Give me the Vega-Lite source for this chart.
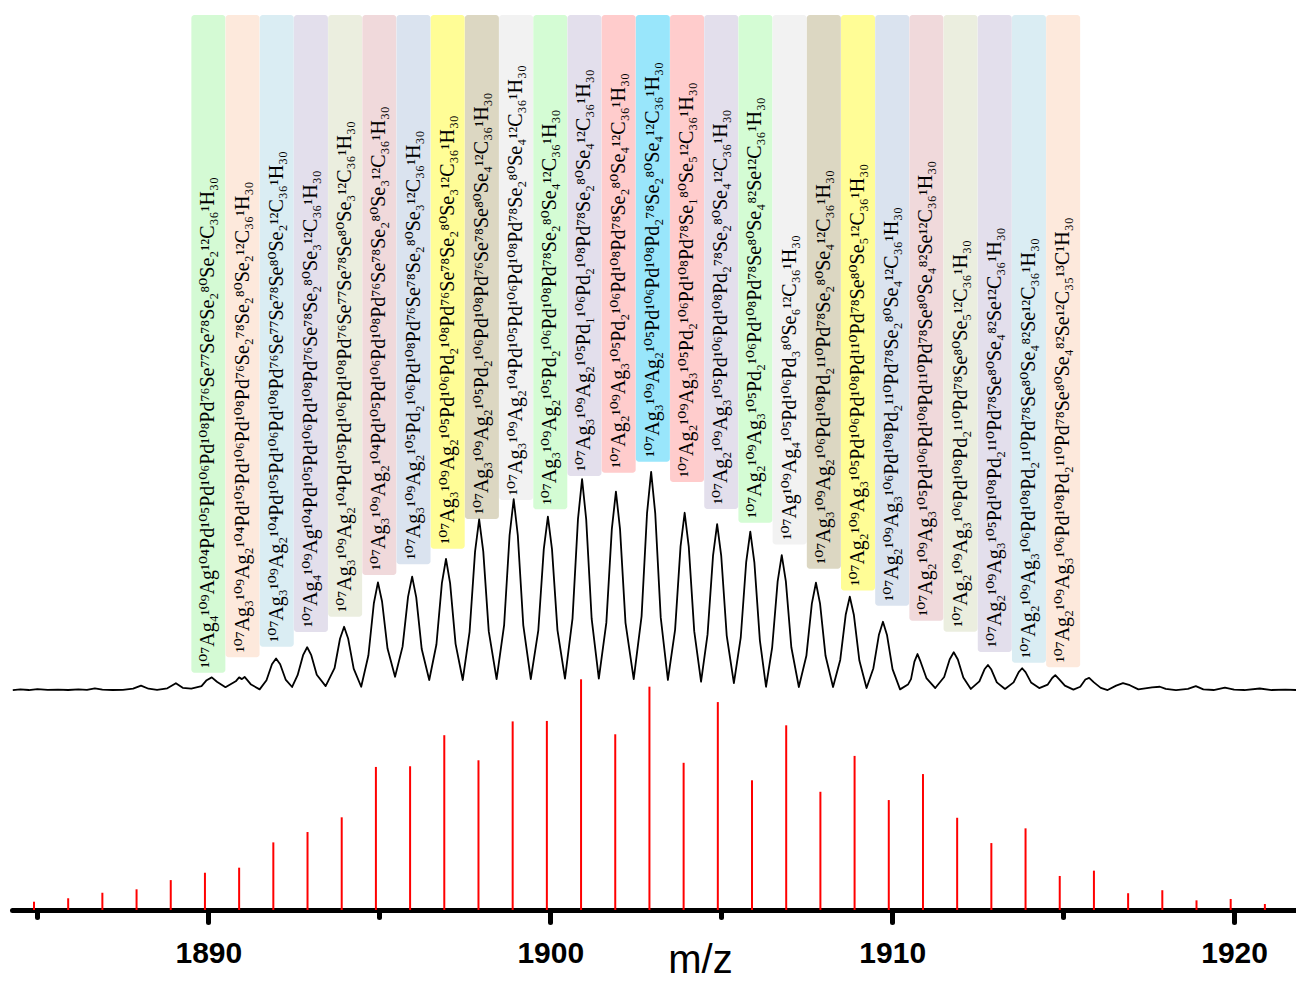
{
  "$schema": "https://vega.github.io/schema/vega-lite/v6.json",
  "width": 1284,
  "height": 910,
  "autosize": {"type": "none"},
  "padding": {"left": 12, "top": 0, "right": 0, "bottom": 71},
  "background": "white",
  "config": {"view": {"stroke": null}},
  "datasets": {
    "labels": [
      {"id": 1, "mz": 1890, "base": 7.9, "f": "¹⁰⁷Ag₄¹⁰⁹Ag¹⁰⁴Pd¹⁰⁵Pd¹⁰⁶Pd¹⁰⁸Pd⁷⁶Se⁷⁷Se⁷⁸Se₂⁸⁰Se₂¹²C₃₆¹H₃₀"},
      {"id": 2, "mz": 1891, "base": 15.0, "f": "¹⁰⁷Ag₃¹⁰⁹Ag₂¹⁰⁴Pd¹⁰⁵Pd¹⁰⁶Pd¹⁰⁸Pd⁷⁶Se₂⁷⁸Se₂⁸⁰Se₂¹²C₃₆¹H₃₀"},
      {"id": 3, "mz": 1892, "base": 19.9, "f": "¹⁰⁷Ag₃¹⁰⁹Ag₂¹⁰⁴Pd¹⁰⁵Pd¹⁰⁶Pd¹⁰⁸Pd⁷⁶Se⁷⁷Se⁷⁸Se⁸⁰Se₂¹²C₃₆¹H₃₀"},
      {"id": 4, "mz": 1893, "base": 26.6, "f": "¹⁰⁷Ag₄¹⁰⁹Ag¹⁰⁴Pd¹⁰⁵Pd¹⁰⁶Pd¹⁰⁸Pd⁷⁶Se⁷⁸Se₂⁸⁰Se₃¹²C₃₆¹H₃₀"},
      {"id": 5, "mz": 1894, "base": 33.6, "f": "¹⁰⁷Ag₃¹⁰⁹Ag₂¹⁰⁴Pd¹⁰⁵Pd¹⁰⁶Pd¹⁰⁸Pd⁷⁶Se⁷⁷Se⁷⁸Se⁸⁰Se₃¹²C₃₆¹H₃₀"},
      {"id": 6, "mz": 1895, "base": 52.8, "f": "¹⁰⁷Ag₃¹⁰⁹Ag₂¹⁰⁴Pd¹⁰⁵Pd¹⁰⁶Pd¹⁰⁸Pd⁷⁶Se⁷⁸Se₂⁸⁰Se₃¹²C₃₆¹H₃₀"},
      {"id": 7, "mz": 1896, "base": 57.7, "f": "¹⁰⁷Ag₃¹⁰⁹Ag₂¹⁰⁵Pd₂¹⁰⁶Pd¹⁰⁸Pd⁷⁶Se⁷⁸Se₂⁸⁰Se₃¹²C₃₆¹H₃₀"},
      {"id": 8, "mz": 1897, "base": 64.8, "f": "¹⁰⁷Ag₃¹⁰⁹Ag₂¹⁰⁵Pd¹⁰⁶Pd₂¹⁰⁸Pd⁷⁶Se⁷⁸Se₂⁸⁰Se₃¹²C₃₆¹H₃₀"},
      {"id": 9, "mz": 1898, "base": 78.4, "f": "¹⁰⁷Ag₃¹⁰⁹Ag₂¹⁰⁵Pd₂¹⁰⁶Pd¹⁰⁸Pd⁷⁶Se⁷⁸Se⁸⁰Se₄¹²C₃₆¹H₃₀"},
      {"id": 10, "mz": 1899, "base": 87.2, "f": "¹⁰⁷Ag₃¹⁰⁹Ag₂¹⁰⁴Pd¹⁰⁵Pd¹⁰⁶Pd¹⁰⁸Pd⁷⁸Se₂⁸⁰Se₄¹²C₃₆¹H₃₀"},
      {"id": 11, "mz": 1900, "base": 82.9, "f": "¹⁰⁷Ag₃¹⁰⁹Ag₂¹⁰⁵Pd₂¹⁰⁶Pd¹⁰⁸Pd⁷⁸Se₂⁸⁰Se₄¹²C₃₆¹H₃₀"},
      {"id": 12, "mz": 1901, "base": 98.2, "f": "¹⁰⁷Ag₃¹⁰⁹Ag₂¹⁰⁵Pd₁¹⁰⁶Pd₂¹⁰⁸Pd⁷⁸Se₂⁸⁰Se₄¹²C₃₆¹H₃₀"},
      {"id": 13, "mz": 1902, "base": 99.7, "f": "¹⁰⁷Ag₂¹⁰⁹Ag₃¹⁰⁵Pd₂¹⁰⁶Pd¹⁰⁸Pd⁷⁸Se₂⁸⁰Se₄¹²C₃₆¹H₃₀"},
      {"id": 14, "mz": 1903, "base": 104.7, "f": "¹⁰⁷Ag₃¹⁰⁹Ag₂¹⁰⁵Pd¹⁰⁶Pd¹⁰⁸Pd₂⁷⁸Se₂⁸⁰Se₄¹²C₃₆¹H₃₀"},
      {"id": 15, "mz": 1904, "base": 95.4, "f": "¹⁰⁷Ag₂¹⁰⁹Ag₃¹⁰⁵Pd₂¹⁰⁶Pd¹⁰⁸Pd⁷⁸Se₁⁸⁰Se₅¹²C₃₆¹H₃₀"},
      {"id": 16, "mz": 1905, "base": 83.0, "f": "¹⁰⁷Ag₂¹⁰⁹Ag₃¹⁰⁵Pd¹⁰⁶Pd¹⁰⁸Pd₂⁷⁸Se₂⁸⁰Se₄¹²C₃₆¹H₃₀"},
      {"id": 17, "mz": 1906, "base": 76.7, "f": "¹⁰⁷Ag₂¹⁰⁹Ag₃¹⁰⁵Pd₂¹⁰⁶Pd¹⁰⁸Pd⁷⁸Se⁸⁰Se₄⁸²Se¹²C₃₆¹H₃₀"},
      {"id": 18, "mz": 1907, "base": 66.7, "f": "¹⁰⁷Ag¹⁰⁹Ag₄¹⁰⁵Pd¹⁰⁶Pd₃⁸⁰Se₆¹²C₃₆¹H₃₀"},
      {"id": 19, "mz": 1908, "base": 55.6, "f": "¹⁰⁷Ag₃¹⁰⁹Ag₂¹⁰⁶Pd¹⁰⁸Pd₂¹¹⁰Pd⁷⁸Se₂⁸⁰Se₄¹²C₃₆¹H₃₀"},
      {"id": 20, "mz": 1909, "base": 45.6, "f": "¹⁰⁷Ag₂¹⁰⁹Ag₃¹⁰⁵Pd¹⁰⁶Pd¹⁰⁸Pd¹¹⁰Pd⁷⁸Se⁸⁰Se₅¹²C₃₆¹H₃₀"},
      {"id": 21, "mz": 1910, "base": 38.7, "f": "¹⁰⁷Ag₂¹⁰⁹Ag₃¹⁰⁶Pd¹⁰⁸Pd₂¹¹⁰Pd⁷⁸Se₂⁸⁰Se₄¹²C₃₆¹H₃₀"},
      {"id": 22, "mz": 1911, "base": 31.8, "f": "¹⁰⁷Ag₂¹⁰⁹Ag₃¹⁰⁵Pd¹⁰⁶Pd¹⁰⁸Pd¹¹⁰Pd⁷⁸Se⁸⁰Se₄⁸²Se¹²C₃₆¹H₃₀"},
      {"id": 23, "mz": 1912, "base": 26.7, "f": "¹⁰⁷Ag₂¹⁰⁹Ag₃¹⁰⁶Pd¹⁰⁸Pd₂¹¹⁰Pd⁷⁸Se⁸⁰Se₅¹²C₃₆¹H₃₀"},
      {"id": 24, "mz": 1913, "base": 17.4, "f": "¹⁰⁷Ag₂¹⁰⁹Ag₃¹⁰⁵Pd¹⁰⁸Pd₂¹¹⁰Pd⁷⁸Se⁸⁰Se₄⁸²Se¹²C₃₆¹H₃₀"},
      {"id": 25, "mz": 1914, "base": 12.5, "f": "¹⁰⁷Ag₂¹⁰⁹Ag₃¹⁰⁶Pd¹⁰⁸Pd₂¹¹⁰Pd⁷⁸Se⁸⁰Se₄⁸²Se¹²C₃₆¹H₃₀"},
      {"id": 26, "mz": 1915, "base": 10.4, "f": "¹⁰⁷Ag₂¹⁰⁹Ag₃¹⁰⁶Pd¹⁰⁸Pd₂¹¹⁰Pd⁷⁸Se⁸⁰Se₄⁸²Se¹²C₃₅¹³C¹H₃₀"}
    ],
    "sim": [
      {"mz": 1884.9, "i": 3.6}, {"mz": 1885.9, "i": 5.1}, {"mz": 1886.9, "i": 7.5}, {"mz": 1887.9, "i": 9.0},
      {"mz": 1888.9, "i": 13.0}, {"mz": 1889.9, "i": 16.2}, {"mz": 1890.9, "i": 18.4}, {"mz": 1891.9, "i": 29.4},
      {"mz": 1892.9, "i": 33.9}, {"mz": 1893.9, "i": 40.3}, {"mz": 1894.9, "i": 62.2}, {"mz": 1895.9, "i": 62.5},
      {"mz": 1896.9, "i": 76.0}, {"mz": 1897.9, "i": 65.1}, {"mz": 1898.9, "i": 82.0}, {"mz": 1899.9, "i": 82.2},
      {"mz": 1900.9, "i": 100.3}, {"mz": 1901.9, "i": 76.4}, {"mz": 1902.9, "i": 97.1}, {"mz": 1903.9, "i": 64.0},
      {"mz": 1904.9, "i": 90.4}, {"mz": 1905.9, "i": 56.4}, {"mz": 1906.9, "i": 80.3}, {"mz": 1907.9, "i": 51.4},
      {"mz": 1908.9, "i": 67.0}, {"mz": 1909.9, "i": 47.8}, {"mz": 1910.9, "i": 59.1}, {"mz": 1911.9, "i": 40.1},
      {"mz": 1912.9, "i": 29.1}, {"mz": 1913.9, "i": 35.5}, {"mz": 1914.9, "i": 14.8}, {"mz": 1915.9, "i": 17.1},
      {"mz": 1916.9, "i": 7.3}, {"mz": 1917.9, "i": 8.6}, {"mz": 1918.9, "i": 4.2}, {"mz": 1919.9, "i": 4.8},
      {"mz": 1920.9, "i": 2.6}
    ],
    "exp": [
      {"mz": 1884.28, "i": 0.0}, {"mz": 1884.5, "i": 0.3}, {"mz": 1884.75, "i": 0.0}, {"mz": 1885.0, "i": 0.4},
      {"mz": 1885.3, "i": 0.1}, {"mz": 1885.6, "i": 0.2}, {"mz": 1885.9, "i": 0.0}, {"mz": 1886.2, "i": 0.3},
      {"mz": 1886.45, "i": 0.1}, {"mz": 1886.68, "i": 0.8}, {"mz": 1886.9, "i": 0.2}, {"mz": 1887.2, "i": 0.0},
      {"mz": 1887.5, "i": 0.1}, {"mz": 1887.8, "i": 0.6}, {"mz": 1888.03, "i": 2.0}, {"mz": 1888.25, "i": 0.6},
      {"mz": 1888.5, "i": 0.1}, {"mz": 1888.8, "i": 0.8}, {"mz": 1889.05, "i": 3.1}, {"mz": 1889.25, "i": 1.0},
      {"mz": 1889.5, "i": 0.6}, {"mz": 1889.8, "i": 1.8}, {"mz": 1889.95, "i": 4.5}, {"mz": 1890.1, "i": 5.8},
      {"mz": 1890.25, "i": 3.8}, {"mz": 1890.5, "i": 1.3}, {"mz": 1890.8, "i": 4.0}, {"mz": 1890.9, "i": 5.8},
      {"mz": 1890.98, "i": 5.0}, {"mz": 1891.06, "i": 6.0}, {"mz": 1891.25, "i": 2.5}, {"mz": 1891.5, "i": 0.3},
      {"mz": 1891.7, "i": 4.5}, {"mz": 1891.86, "i": 11.8}, {"mz": 1891.98, "i": 14.5}, {"mz": 1892.1, "i": 11.8},
      {"mz": 1892.26, "i": 4.8}, {"mz": 1892.45, "i": 1.4},
      {"mz": 1892.61, "i": 6.8}, {"mz": 1892.77, "i": 16.0}, {"mz": 1892.89, "i": 19.6}, {"mz": 1893.01, "i": 16.0},
      {"mz": 1893.17, "i": 7.0}, {"mz": 1893.43, "i": 1.8},
      {"mz": 1893.69, "i": 10.0}, {"mz": 1893.85, "i": 23.5}, {"mz": 1893.97, "i": 29.0}, {"mz": 1894.09, "i": 23.5},
      {"mz": 1894.25, "i": 9.8}, {"mz": 1894.47, "i": 1.5},
      {"mz": 1894.68, "i": 15.8}, {"mz": 1894.84, "i": 39.8}, {"mz": 1894.96, "i": 49.4}, {"mz": 1895.08, "i": 40.6},
      {"mz": 1895.24, "i": 19.0}, {"mz": 1895.46, "i": 6.1},
      {"mz": 1895.68, "i": 19.9}, {"mz": 1895.84, "i": 42.7}, {"mz": 1895.96, "i": 52.0}, {"mz": 1896.08, "i": 42.5},
      {"mz": 1896.24, "i": 18.8}, {"mz": 1896.46, "i": 4.6},
      {"mz": 1896.67, "i": 20.9}, {"mz": 1896.83, "i": 49.0}, {"mz": 1896.95, "i": 60.1}, {"mz": 1897.07, "i": 49.0},
      {"mz": 1897.23, "i": 21.2}, {"mz": 1897.44, "i": 4.6},
      {"mz": 1897.64, "i": 26.7}, {"mz": 1897.8, "i": 63.5}, {"mz": 1897.92, "i": 78.3}, {"mz": 1898.04, "i": 63.6},
      {"mz": 1898.2, "i": 27.0}, {"mz": 1898.43, "i": 5.0},
      {"mz": 1898.65, "i": 29.8}, {"mz": 1898.81, "i": 71.0}, {"mz": 1898.93, "i": 87.5}, {"mz": 1899.05, "i": 71.0},
      {"mz": 1899.21, "i": 29.8}, {"mz": 1899.43, "i": 5.0},
      {"mz": 1899.65, "i": 27.4}, {"mz": 1899.81, "i": 64.6}, {"mz": 1899.93, "i": 79.5}, {"mz": 1900.05, "i": 64.6},
      {"mz": 1900.21, "i": 27.5}, {"mz": 1900.43, "i": 5.2},
      {"mz": 1900.65, "i": 32.7}, {"mz": 1900.81, "i": 78.4}, {"mz": 1900.93, "i": 96.7}, {"mz": 1901.05, "i": 78.4},
      {"mz": 1901.21, "i": 32.7}, {"mz": 1901.42, "i": 5.2},
      {"mz": 1901.64, "i": 30.9}, {"mz": 1901.8, "i": 73.8}, {"mz": 1901.92, "i": 91.0}, {"mz": 1902.04, "i": 73.8},
      {"mz": 1902.2, "i": 30.8}, {"mz": 1902.44, "i": 5.0},
      {"mz": 1902.67, "i": 33.8}, {"mz": 1902.83, "i": 81.1}, {"mz": 1902.95, "i": 100.1}, {"mz": 1903.07, "i": 81.0},
      {"mz": 1903.23, "i": 33.3}, {"mz": 1903.44, "i": 4.6},
      {"mz": 1903.65, "i": 27.6}, {"mz": 1903.81, "i": 65.9}, {"mz": 1903.93, "i": 81.3}, {"mz": 1904.05, "i": 65.8},
      {"mz": 1904.21, "i": 27.0}, {"mz": 1904.41, "i": 3.8},
      {"mz": 1904.6, "i": 25.5}, {"mz": 1904.76, "i": 61.6}, {"mz": 1904.88, "i": 76.1}, {"mz": 1905.0, "i": 61.5},
      {"mz": 1905.16, "i": 25.0}, {"mz": 1905.37, "i": 3.2},
      {"mz": 1905.57, "i": 24.0}, {"mz": 1905.73, "i": 58.7}, {"mz": 1905.85, "i": 72.6}, {"mz": 1905.97, "i": 58.4},
      {"mz": 1906.13, "i": 22.8}, {"mz": 1906.31, "i": 1.5},
      {"mz": 1906.49, "i": 19.6}, {"mz": 1906.65, "i": 49.8}, {"mz": 1906.77, "i": 61.9}, {"mz": 1906.89, "i": 49.8},
      {"mz": 1907.05, "i": 19.6}, {"mz": 1907.27, "i": 1.4},
      {"mz": 1907.49, "i": 15.7}, {"mz": 1907.65, "i": 39.6}, {"mz": 1907.77, "i": 49.2}, {"mz": 1907.89, "i": 39.6},
      {"mz": 1908.05, "i": 15.7}, {"mz": 1908.27, "i": 1.4},
      {"mz": 1908.48, "i": 13.8}, {"mz": 1908.64, "i": 34.5}, {"mz": 1908.76, "i": 42.8}, {"mz": 1908.88, "i": 34.4},
      {"mz": 1909.04, "i": 13.5}, {"mz": 1909.25, "i": 0.9},
      {"mz": 1909.45, "i": 10.0}, {"mz": 1909.61, "i": 25.2}, {"mz": 1909.73, "i": 31.3}, {"mz": 1909.85, "i": 25.1},
      {"mz": 1910.01, "i": 9.6}, {"mz": 1910.23, "i": 0.3},
      {"mz": 1910.46, "i": 2.5}, {"mz": 1910.55, "i": 5.0}, {"mz": 1910.65, "i": 13.0}, {"mz": 1910.74, "i": 16.5},
      {"mz": 1910.83, "i": 13.0}, {"mz": 1911.0, "i": 5.5}, {"mz": 1911.26, "i": 0.9},
      {"mz": 1911.52, "i": 6.0}, {"mz": 1911.68, "i": 14.0}, {"mz": 1911.8, "i": 17.3}, {"mz": 1911.92, "i": 14.0},
      {"mz": 1912.08, "i": 5.7}, {"mz": 1912.3, "i": 0.5},
      {"mz": 1912.55, "i": 4.0}, {"mz": 1912.7, "i": 9.5}, {"mz": 1912.8, "i": 11.5}, {"mz": 1912.9, "i": 9.4},
      {"mz": 1913.06, "i": 3.5}, {"mz": 1913.3, "i": 0.5},
      {"mz": 1913.55, "i": 3.5}, {"mz": 1913.7, "i": 8.2}, {"mz": 1913.8, "i": 10.0}, {"mz": 1913.9, "i": 8.2},
      {"mz": 1914.06, "i": 3.5}, {"mz": 1914.3, "i": 0.9},
      {"mz": 1914.55, "i": 2.5}, {"mz": 1914.68, "i": 5.5}, {"mz": 1914.77, "i": 6.8}, {"mz": 1914.88, "i": 5.0},
      {"mz": 1915.05, "i": 2.0}, {"mz": 1915.3, "i": 0.2},
      {"mz": 1915.5, "i": 1.5}, {"mz": 1915.65, "i": 4.8}, {"mz": 1915.76, "i": 5.6}, {"mz": 1915.9, "i": 3.5},
      {"mz": 1916.1, "i": 1.0}, {"mz": 1916.3, "i": 0.0},
      {"mz": 1916.55, "i": 2.0}, {"mz": 1916.75, "i": 3.2}, {"mz": 1916.95, "i": 2.2}, {"mz": 1917.2, "i": 0.3},
      {"mz": 1917.6, "i": 1.2}, {"mz": 1917.83, "i": 1.5}, {"mz": 1918.0, "i": 0.5}, {"mz": 1918.3, "i": 0.0},
      {"mz": 1918.65, "i": 0.5}, {"mz": 1918.88, "i": 1.8}, {"mz": 1919.1, "i": 0.3}, {"mz": 1919.4, "i": 0.0},
      {"mz": 1919.73, "i": 1.1}, {"mz": 1920.0, "i": 0.2}, {"mz": 1920.3, "i": 0.0}, {"mz": 1920.75, "i": 0.7},
      {"mz": 1921.1, "i": 0.0}, {"mz": 1921.5, "i": 0.2}, {"mz": 1921.81, "i": 0.0}
    ]
  },
  "encoding": {
    "x": {
      "field": "mz",
      "type": "quantitative",
      "title": "m/z",
      "scale": {"domain": [1884.257, 1921.81], "nice": false, "zero": false, "padding": 0},
      "axis": {
        "values": [1885, 1890, 1895, 1900, 1905, 1910, 1915, 1920],
        "format": "d",
        "labelExpr": "datum.value % 10 === 0 ? datum.label : ''",
        "grid": false,
        "domainColor": "black",
        "domainWidth": 5,
        "domainCap": "round",
        "tickColor": "black",
        "tickWidth": 5,
        "tickCap": "round",
        "tickSize": {"condition": {"test": "datum.value % 10 === 0", "value": 12}, "value": 7},
        "labelFont": "Liberation Sans",
        "labelFontWeight": "bold",
        "labelFontSize": 30,
        "labelColor": "black",
        "labelPadding": 16,
        "labelOverlap": false,
        "labelFlush": false,
        "titleFont": "Liberation Sans",
        "titleFontSize": 40,
        "titleFontWeight": "normal",
        "titleColor": "black",
        "titleX": 688,
        "titleY": 62,
        "titleAlign": "center",
        "titleBaseline": "alphabetic"
      }
    }
  },
  "layer": [
    {
      "data": {"name": "labels"},
      "mark": {"type": "bar", "width": 34, "cornerRadius": 3, "opacity": 1},
      "encoding": {
        "y": {"field": "base", "type": "quantitative", "scale": {"domain": [-100.9, 316.5], "nice": false, "zero": false}, "axis": null},
        "y2": {"datum": 309.6},
        "color": {
          "field": "id",
          "type": "ordinal",
          "legend": null,
          "scale": {
            "domain": [1, 2, 3, 4, 5, 6, 7, 8, 9, 10, 11, 12, 13, 14, 15, 16, 17, 18, 19, 20, 21, 22, 23, 24, 25, 26],
            "range": ["#d4fad4", "#fde9dc", "#daedf3", "#e3dfec", "#ebeedf", "#f0d9db", "#dae3ef", "#fffd96", "#dcd7c2", "#f2f2f2", "#d4fcd4", "#e3dfec", "#ffcccc", "#99e6fb", "#ffcccc", "#e3dfec", "#d4fcd4", "#f2f2f2", "#dcd7c2", "#fffd96", "#dae3ef", "#f0d9db", "#ebeedf", "#e3dfec", "#daedf3", "#fde9dc"]
          }
        }
      }
    },
    {
      "data": {"name": "labels"},
      "mark": {"type": "text", "angle": 270, "align": "left", "baseline": "middle", "dx": 5, "font": "Liberation Serif, DejaVu Serif, serif", "fontSize": 20, "color": "black"},
      "encoding": {
        "y": {"field": "base", "type": "quantitative", "scale": {"domain": [-100.9, 316.5], "nice": false, "zero": false}, "axis": null},
        "text": {"field": "f"}
      }
    },
    {
      "data": {"name": "exp"},
      "mark": {"type": "line", "color": "black", "strokeWidth": 1.8, "strokeJoin": "round"},
      "encoding": {
        "y": {"field": "i", "type": "quantitative", "scale": {"domain": [-100.9, 316.5], "nice": false, "zero": false}, "axis": null}
      }
    },
    {
      "data": {"name": "sim"},
      "mark": {"type": "rule", "color": "#ff0000", "strokeWidth": 2},
      "encoding": {
        "y": {"field": "i", "type": "quantitative", "scale": {"domain": [0, 395.65], "nice": false, "zero": false}, "axis": null},
        "y2": {"datum": 0}
      }
    }
  ],
  "resolve": {"scale": {"y": "independent"}}
}
